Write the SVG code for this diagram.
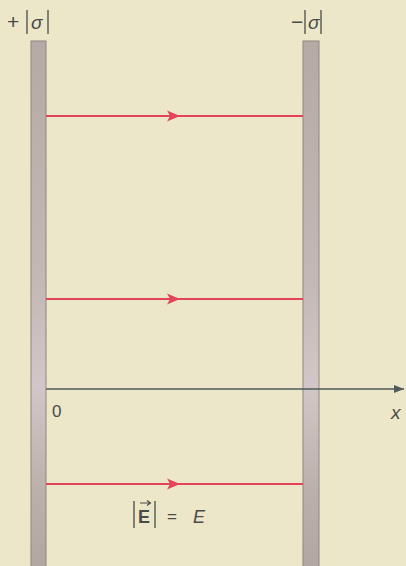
<svg xmlns="http://www.w3.org/2000/svg" width="406" height="566" viewBox="0 0 406 566">
<defs>
<linearGradient id="plate" x1="0" y1="0" x2="0" y2="1">
<stop offset="0" stop-color="#b6aaa6"/>
<stop offset="0.45" stop-color="#c4b8b6"/>
<stop offset="0.65" stop-color="#d2c6c8"/>
<stop offset="0.85" stop-color="#bcb0ac"/>
<stop offset="1" stop-color="#b2a6a2"/>
</linearGradient>
<marker id="axArrow" viewBox="0 0 10 8" refX="10" refY="4" markerWidth="10" markerHeight="8" markerUnits="userSpaceOnUse" orient="auto">
<path d="M0,0 L10,4 L0,8 Z" fill="#4f5a5a"/>
</marker>
</defs>
<style>
.plate{fill:url(#plate);stroke:#8f8580;stroke-width:1}
.field{stroke:#e2455a;stroke-width:2;fill:none}
.head{fill:#e2455a}
.lbl{font-family:"Liberation Sans",Arial,sans-serif;font-size:17px;fill:#4a4a48}
.big{font-size:21px}
.sig{font-family:"Liberation Sans",Arial,sans-serif;font-style:italic;font-size:19px;fill:#4a4a48}
.e18{font-size:18px}
.bar{stroke:#4a4a48;stroke-width:1.3}
</style>
<rect width="406" height="566" fill="#ede7ca"/>
<g id="plate-left"><rect class="plate" x="31" y="41" width="15" height="530"/></g>
<g id="plate-right"><rect class="plate" x="303" y="41" width="16" height="530"/></g>
<g id="connectors">
<line class="field" x1="46" y1="116" x2="303" y2="116"/>
<line class="field" x1="46" y1="299" x2="303" y2="299"/>
<line class="field" x1="46" y1="484" x2="303" y2="484"/>
<path class="head" d="M167,110.5 L180,116 L167,121.5 L170,116 Z"/>
<path class="head" d="M167,293.5 L180,299 L167,304.5 L170,299 Z"/>
<path class="head" d="M167,478.5 L180,484 L167,489.5 L170,484 Z"/>
<line x1="46" y1="389" x2="404" y2="389" stroke="#4f5a5a" stroke-width="1.5" marker-end="url(#axArrow)"/>
</g>
<g id="label-plus">
<text class="lbl big" x="7" y="29">+</text>
<line class="bar" x1="27" y1="10" x2="27" y2="34"/>
<text class="sig" x="31" y="29">σ</text>
<line class="bar" x1="48" y1="10" x2="48" y2="34"/>
</g>
<g id="label-minus">
<text class="lbl big" x="291" y="29">−</text>
<line class="bar" x1="305" y1="10" x2="305" y2="34"/>
<text class="sig" x="308" y="29">σ</text>
<line class="bar" x1="321" y1="10" x2="321" y2="34"/>
</g>
<g id="label-zero"><text class="lbl" x="52" y="417">0</text></g>
<g id="label-x"><text class="sig" x="391" y="419">x</text></g>
<g id="label-E">
<line class="bar" x1="134" y1="501" x2="134" y2="528"/>
<text class="lbl e18" x="138" y="523" font-weight="bold">E</text>
<path d="M140,503 H150 M147,500.5 L150.5,503 L147,505.5" stroke="#4a4a48" stroke-width="1.1" fill="none"/>
<line class="bar" x1="155" y1="501" x2="155" y2="528"/>
<text class="lbl" x="167" y="522">=</text>
<text class="lbl e18" x="193" y="523" font-style="italic">E</text>
</g>
</svg>
